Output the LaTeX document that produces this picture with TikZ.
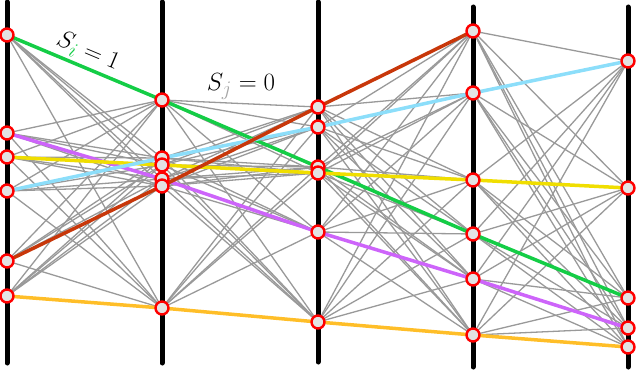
\documentclass[tikz,border=0pt]{standalone}
\usetikzlibrary{backgrounds}
\definecolor{pgreen}{RGB}{20,205,70}
\definecolor{ppurple}{RGB}{205,100,250}
\definecolor{pyellow}{RGB}{240,222,0}
\definecolor{pblue}{RGB}{140,222,250}
\definecolor{pred}{RGB}{200,55,10}
\definecolor{porange}{RGB}{255,190,40}
\begin{document}
\begin{tikzpicture}[x=1pt,y=-1pt,font=\fontsize{29}{32}\selectfont,
  stop/.style={circle,draw=red,line width=2.4pt,fill=gray!22,minimum size=13pt,inner sep=0pt},
  axis/.style={line width=5pt,line cap=round},
  edge/.style={gray!80,line width=1.3pt},
  path/.style={line width=3.5pt,line join=round}]
 \useasboundingbox (0,0) rectangle (636,369);
 % stops on each line
 \foreach \y [count=\k] in {35,133,157,191,261,296}{\node[stop] (a\k) at (7,\y) {};}
 \foreach \y [count=\k] in {100,158,165,179,186,308}{\node[stop] (b\k) at (162,\y) {};}
 \foreach \y [count=\k] in {107,127,167,173,232,322}{\node[stop] (c\k) at (318,\y) {};}
 \foreach \y [count=\k] in {31,93,180,234,279,335}{\node[stop] (d\k) at (473,\y) {};}
 \foreach \y [count=\k] in {61,188,298,328,347}{\node[stop] (e\k) at (628,\y) {};}
 \begin{scope}[on background layer]
  \foreach \x/\t/\b in {7/2/363,162/2/363,318/2/362,473/7/367,628/7/367}{\draw[axis] (\x,\t)--(\x,\b);}
  \foreach \i in {1,...,6}{\foreach \j in {1,...,6}{
   \draw[edge] (a\i.center)--(b\j.center);\draw[edge] (b\i.center)--(c\j.center);\draw[edge] (c\i.center)--(d\j.center);}}
  \foreach \i in {1,...,6}{\foreach \j in {1,...,5}{\draw[edge] (d\i.center)--(e\j.center);}}
  \draw[path,pgreen] (a1.center)--(b1.center)--(c3.center)--(d4.center)--(e3.center);
  \draw[path,ppurple] (a2.center)--(b4.center)--(c5.center)--(d5.center)--(e4.center);
  \draw[path,pyellow] (a3.center)--(b3.center)--(c4.center)--(d3.center)--(e2.center);
  \draw[path,pblue] (a4.center)--(b2.center)--(c2.center)--(d2.center)--(e1.center);
  \draw[path,pred] (a5.center)--(b5.center)--(c1.center)--(d1.center);
  \draw[path,porange] (a6.center)--(b6.center)--(c6.center)--(d6.center)--(e5.center);
 \end{scope}
 \node[rotate=-22.8] (si) at (88,52) {$S_{\textcolor{pgreen}{i}}=1$};
 \node (sj) at (241,87) {$S_{\textcolor{gray!70}{j}}=0$};
\end{tikzpicture}
\end{document}
